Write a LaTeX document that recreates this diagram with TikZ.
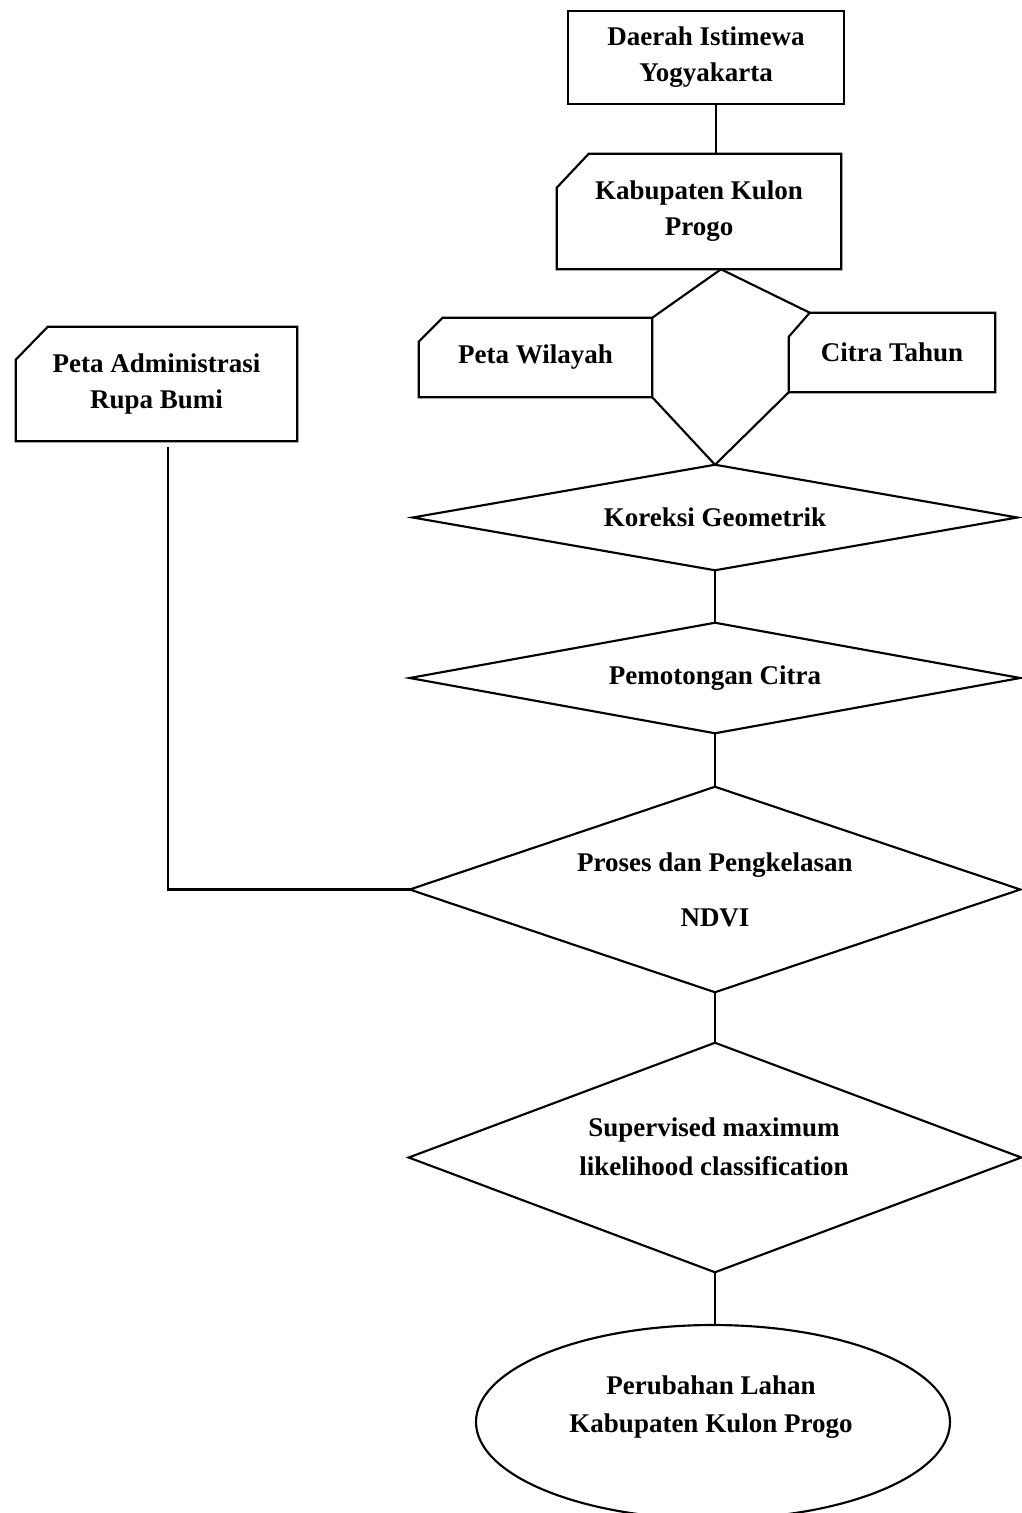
\documentclass[tikz,border=0pt]{standalone}
\usepackage{fontspec}
\setmainfont{Liberation Serif}
\usetikzlibrary{shapes.geometric}
\begin{document}
\begin{tikzpicture}[x=0.75pt,y=-0.75pt]
\tikzset{
  txt/.style={font=\bfseries\fontsize{20.25}{27}\selectfont, align=center, inner sep=0pt, text=black},
  ln/.style={line width=1.6pt, line join=miter, draw=black},
}
\useasboundingbox (0,0) rectangle (1021,1513);
\fill[white] (0,0) rectangle (1021,1513);

% helper coordinates
\coordinate (x716) at (716,0);
\coordinate (x721) at (721,0);
\coordinate (pas) at (168,447);

% Nodes
\node[txt, minimum width=276*0.75pt, minimum height=93*0.75pt] (b1) at (706,57.5) {Daerah Istimewa\\Yogyakarta};
\node[txt, minimum width=284*0.75pt, minimum height=115*0.75pt] (b2) at (699,211.5) {Kabupaten Kulon\\Progo};
\node[txt, minimum width=233*0.75pt, minimum height=79*0.75pt] (pw) at (535.5,357.5) {Peta Wilayah};
\node[txt, minimum width=206*0.75pt, minimum height=79*0.75pt] (ct) at (892,352.5) {Citra Tahun};
\node[txt, minimum width=281*0.75pt, minimum height=114*0.75pt] (pa) at (156.5,384) {Peta Administrasi\\Rupa Bumi};
\node[txt, minimum width=604*0.75pt, minimum height=105*0.75pt] (kg) at (715,517.5) {Koreksi Geometrik};
\node[txt, minimum width=610*0.75pt, minimum height=110*0.75pt] (pc) at (715,678) {Pemotongan Citra};
\node[txt, minimum width=610*0.75pt, minimum height=205*0.75pt] (pp) at (715,889.5) {Proses dan Pengkelasan\\[14pt]NDVI};
\node[txt, minimum width=612*0.75pt, minimum height=229*0.75pt] (sm) at (715,1157.5) {};
\node[txt, font=\bfseries\fontsize{20.25}{29}\selectfont] (smt) at (714,1147) {Supervised maximum\\likelihood classification};
\node[ellipse, ln, inner sep=0pt, minimum width=474*0.75pt, minimum height=194*0.75pt] (el) at (713,1422) {};
\node[txt, font=\bfseries\fontsize{20.25}{29}\selectfont] (elt) at (711,1407) {Perubahan Lahan\\Kabupaten Kulon Progo};

% Outlines
\draw[ln] (b1.north west) rectangle (b1.south east);
\draw[ln] ([xshift=32*0.75pt]b2.north west) -- (b2.north east) -- (b2.south east) -- (b2.south west) -- ([yshift=-34*0.75pt]b2.north west) -- cycle;
\draw[ln] ([xshift=24*0.75pt]pw.north west) -- (pw.north east) -- (pw.south east) -- (pw.south west) -- ([yshift=-24*0.75pt]pw.north west) -- cycle;
\draw[ln] ([xshift=21*0.75pt]ct.north west) -- (ct.north east) -- (ct.south east) -- (ct.south west) -- ([yshift=-24*0.75pt]ct.north west) -- cycle;
\draw[ln] ([xshift=32*0.75pt]pa.north west) -- (pa.north east) -- (pa.south east) -- (pa.south west) -- ([yshift=-33*0.75pt]pa.north west) -- cycle;
\foreach \n in {kg,pc,pp,sm}
  \draw[ln] (\n.north) -- (\n.east) -- (\n.south) -- (\n.west) -- cycle;

% Connectors
\draw[ln] (b1.south -| x716) -- (b2.north -| x716);
\draw[ln] (b2.south -| x721) -- (pw.north east);
\draw[ln] (b2.south -| x721) -- ([xshift=21*0.75pt]ct.north west);
\draw[ln] (pw.south east) -- (kg.north);
\draw[ln] (ct.south west) -- (kg.north);
\draw[ln] (kg.south) -- (pc.north);
\draw[ln] (pc.south) -- (pp.north);
\draw[ln] (pp.south) -- (sm.north);
\draw[ln] (sm.south) -- (sm.south |- el.north);
\draw[ln] (pas) |- (pp.west);
\end{tikzpicture}
\end{document}
